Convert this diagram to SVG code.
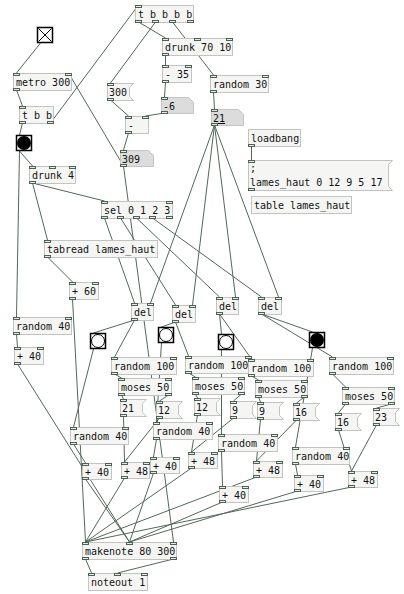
<svg xmlns="http://www.w3.org/2000/svg" width="404" height="594" viewBox="0 0 404 594">
<style>
.ob{fill:#f5f6f4;stroke:#c2c4c2;stroke-width:1}
.at{fill:#dcdcdc;stroke:#c4c4c4;stroke-width:1}
.ms{fill:#f5f6f4;stroke:#c2c4c2;stroke-width:1}
.io{fill:#e6ebe6;stroke:#4c6252;stroke-width:1}
.ig{fill:#ffffff;stroke:#000;stroke-width:1.5}
.cn line{stroke:#53675a;stroke-width:1}
text{font-family:"DejaVu Sans Mono",monospace;font-size:10px;fill:#111}
</style>
<rect width="404" height="594" fill="#ffffff"/>
<g class="cn" id="connectors">
<line x1="40.5" y1="43" x2="16.5" y2="73"/>
<line x1="16.5" y1="90" x2="22.5" y2="106"/>
<line x1="50.5" y1="123" x2="138.5" y2="5"/>
<line x1="22.5" y1="123" x2="19.5" y2="135"/>
<line x1="19.5" y1="151" x2="32.5" y2="166"/>
<line x1="19.5" y1="151" x2="16.5" y2="317"/>
<line x1="123.5" y1="166" x2="68.5" y2="73"/>
<line x1="123.5" y1="166" x2="173.5" y2="542"/>
<line x1="138.5" y1="22" x2="165.5" y2="38"/>
<line x1="155.5" y1="22" x2="110.5" y2="83"/>
<line x1="172.5" y1="22" x2="213.5" y2="75"/>
<line x1="165.5" y1="55" x2="165.5" y2="65"/>
<line x1="165.5" y1="82" x2="164.5" y2="97"/>
<line x1="164.5" y1="113" x2="145.5" y2="116"/>
<line x1="110.5" y1="100" x2="128.5" y2="116"/>
<line x1="128.5" y1="133" x2="123.5" y2="150"/>
<line x1="213.5" y1="92" x2="214.5" y2="109"/>
<line x1="214.5" y1="125" x2="150.5" y2="303"/>
<line x1="214.5" y1="125" x2="192.5" y2="305"/>
<line x1="214.5" y1="125" x2="235.5" y2="297"/>
<line x1="214.5" y1="125" x2="278.5" y2="297"/>
<line x1="251.5" y1="146" x2="251.5" y2="160"/>
<line x1="32.5" y1="183" x2="104.5" y2="201"/>
<line x1="32.5" y1="183" x2="47.5" y2="240"/>
<line x1="47.5" y1="257" x2="72.5" y2="282"/>
<line x1="104.5" y1="218" x2="134.5" y2="303"/>
<line x1="120.5" y1="218" x2="175.5" y2="305"/>
<line x1="136.5" y1="218" x2="219.5" y2="297"/>
<line x1="152.5" y1="218" x2="261.5" y2="297"/>
<line x1="72.5" y1="299" x2="85.5" y2="542"/>
<line x1="16.5" y1="334" x2="17.5" y2="347"/>
<line x1="17.5" y1="364" x2="129.5" y2="542"/>
<line x1="134.5" y1="320" x2="93.5" y2="333"/>
<line x1="134.5" y1="320" x2="114.5" y2="357"/>
<line x1="175.5" y1="322" x2="161.5" y2="327"/>
<line x1="175.5" y1="322" x2="188.5" y2="356"/>
<line x1="219.5" y1="314" x2="221.5" y2="334"/>
<line x1="219.5" y1="314" x2="251.5" y2="359"/>
<line x1="261.5" y1="314" x2="312.5" y2="332"/>
<line x1="261.5" y1="314" x2="332.5" y2="357"/>
<line x1="93.5" y1="349" x2="73.5" y2="427"/>
<line x1="161.5" y1="343" x2="156.5" y2="422"/>
<line x1="221.5" y1="350" x2="221.5" y2="434"/>
<line x1="312.5" y1="348" x2="295.5" y2="447"/>
<line x1="114.5" y1="374" x2="121.5" y2="378"/>
<line x1="121.5" y1="395" x2="123.5" y2="399"/>
<line x1="168.5" y1="395" x2="159.5" y2="401"/>
<line x1="123.5" y1="416" x2="124.5" y2="462"/>
<line x1="159.5" y1="418" x2="124.5" y2="462"/>
<line x1="73.5" y1="444" x2="85.5" y2="463"/>
<line x1="156.5" y1="439" x2="153.5" y2="457"/>
<line x1="188.5" y1="373" x2="195.5" y2="377"/>
<line x1="195.5" y1="394" x2="197.5" y2="398"/>
<line x1="241.5" y1="394" x2="233.5" y2="401"/>
<line x1="197.5" y1="415" x2="191.5" y2="452"/>
<line x1="233.5" y1="418" x2="191.5" y2="452"/>
<line x1="251.5" y1="376" x2="258.5" y2="380"/>
<line x1="258.5" y1="397" x2="260.5" y2="402"/>
<line x1="304.5" y1="397" x2="296.5" y2="403"/>
<line x1="260.5" y1="419" x2="256.5" y2="461"/>
<line x1="296.5" y1="420" x2="256.5" y2="461"/>
<line x1="221.5" y1="451" x2="222.5" y2="486"/>
<line x1="332.5" y1="374" x2="345.5" y2="387"/>
<line x1="345.5" y1="404" x2="338.5" y2="413"/>
<line x1="391.5" y1="404" x2="376.5" y2="408"/>
<line x1="338.5" y1="430" x2="351.5" y2="471"/>
<line x1="376.5" y1="425" x2="351.5" y2="471"/>
<line x1="295.5" y1="464" x2="297.5" y2="475"/>
<line x1="85.5" y1="479" x2="129.5" y2="542"/>
<line x1="124.5" y1="478" x2="85.5" y2="542"/>
<line x1="153.5" y1="473" x2="129.5" y2="542"/>
<line x1="191.5" y1="468" x2="85.5" y2="542"/>
<line x1="222.5" y1="502" x2="129.5" y2="542"/>
<line x1="256.5" y1="477" x2="85.5" y2="542"/>
<line x1="297.5" y1="491" x2="129.5" y2="542"/>
<line x1="351.5" y1="487" x2="85.5" y2="542"/>
<line x1="85.5" y1="559" x2="91.5" y2="573"/>
<line x1="173.5" y1="559" x2="117.5" y2="573"/>
</g>

<g id="n_tbbbb"><rect class="ob" x="135.5" y="5.5" width="58" height="17"/><text x="138" y="18">t b b b b</text><rect class="io" x="135.5" y="5.5" width="6" height="2"/><rect class="io" x="135.5" y="20.5" width="6" height="2"/><rect class="io" x="152.5" y="20.5" width="6" height="2"/><rect class="io" x="169.5" y="20.5" width="6" height="2"/><rect class="io" x="187.5" y="20.5" width="6" height="2"/></g>
<g id="n_toggle"><rect class="ig" x="37.5" y="27.5" width="15" height="15"/><path d="M38.5 28.5 L51.5 41.5 M51.5 28.5 L38.5 41.5" stroke="#000" stroke-width="1"/></g>
<g id="n_metro"><rect class="ob" x="13.5" y="73.5" width="58" height="17"/><text x="16" y="86">metro 300</text><rect class="io" x="13.5" y="73.5" width="6" height="2"/><rect class="io" x="65.5" y="73.5" width="6" height="2"/><rect class="io" x="13.5" y="88.5" width="6" height="2"/></g>
<g id="n_tbb"><rect class="ob" x="19.5" y="106.5" width="34" height="17"/><text x="22" y="119">t b b</text><rect class="io" x="19.5" y="106.5" width="6" height="2"/><rect class="io" x="19.5" y="121.5" width="6" height="2"/><rect class="io" x="47.5" y="121.5" width="6" height="2"/></g>
<g id="n_bang1"><rect class="ig" x="16.5" y="135.5" width="15" height="15"/><circle cx="24" cy="143" r="7" fill="#000"/></g>
<g id="n_drunk4"><rect class="ob" x="29.5" y="166.5" width="46" height="17"/><text x="32" y="179">drunk 4</text><rect class="io" x="29.5" y="166.5" width="6" height="2"/><rect class="io" x="49.5" y="166.5" width="6" height="2"/><rect class="io" x="69.5" y="166.5" width="6" height="2"/><rect class="io" x="29.5" y="181.5" width="6" height="2"/></g>
<g id="n_drunk7010"><rect class="ob" x="162.5" y="38.5" width="70" height="17"/><text x="165" y="51">drunk 70 10</text><rect class="io" x="162.5" y="38.5" width="6" height="2"/><rect class="io" x="194.5" y="38.5" width="6" height="2"/><rect class="io" x="226.5" y="38.5" width="6" height="2"/><rect class="io" x="162.5" y="53.5" width="6" height="2"/></g>
<g id="n_minus35"><rect class="ob" x="162.5" y="65.5" width="29" height="17"/><text x="165" y="78">- 35</text><rect class="io" x="162.5" y="65.5" width="6" height="2"/><rect class="io" x="185.5" y="65.5" width="6" height="2"/><rect class="io" x="162.5" y="80.5" width="6" height="2"/></g>
<g id="n_num_m6"><path class="at" d="M161.5 97.5 H188.5 L193.5 102.5 V113.5 H161.5 Z"/><text x="163" y="110">-6</text><rect class="io" x="161.5" y="97.5" width="6" height="2"/><rect class="io" x="161.5" y="111.5" width="6" height="2"/></g>
<g id="n_msg300"><path class="ms" d="M107.5 83.5 H133.5 L129.5 87.5 V96.5 L133.5 100.5 H107.5 Z"/><text x="109" y="96">300</text><rect class="io" x="107.5" y="83.5" width="6" height="2"/><rect class="io" x="107.5" y="98.5" width="6" height="2"/></g>
<g id="n_minus"><rect class="ob" x="125.5" y="116.5" width="23" height="17"/><text x="128" y="129">-</text><rect class="io" x="125.5" y="116.5" width="6" height="2"/><rect class="io" x="142.5" y="116.5" width="6" height="2"/><rect class="io" x="125.5" y="131.5" width="6" height="2"/></g>
<g id="n_num309"><path class="at" d="M120.5 150.5 H148.5 L153.5 155.5 V166.5 H120.5 Z"/><text x="122" y="163">309</text><rect class="io" x="120.5" y="150.5" width="6" height="2"/><rect class="io" x="120.5" y="164.5" width="6" height="2"/></g>
<g id="n_random30"><rect class="ob" x="210.5" y="75.5" width="58" height="17"/><text x="213" y="88">random 30</text><rect class="io" x="210.5" y="75.5" width="6" height="2"/><rect class="io" x="262.5" y="75.5" width="6" height="2"/><rect class="io" x="210.5" y="90.5" width="6" height="2"/></g>
<g id="n_num21"><path class="at" d="M211.5 109.5 H238.5 L243.5 114.5 V125.5 H211.5 Z"/><text x="213" y="122" text-decoration="underline">21</text><rect class="io" x="211.5" y="109.5" width="6" height="2"/><rect class="io" x="211.5" y="123.5" width="6" height="2"/></g>
<g id="n_loadbang"><rect class="ob" x="248.5" y="129.5" width="52" height="17"/><text x="251" y="142">loadbang</text><rect class="io" x="248.5" y="144.5" width="6" height="2"/></g>
<g id="n_msglames"><path class="ms" d="M248.5 160.5 H392.5 L388.5 164.5 V186.5 L392.5 190.5 H248.5 Z"/><text x="250" y="172">;</text><text x="250" y="186">lames_haut 0 12 9 5 17</text><rect class="io" x="248.5" y="160.5" width="6" height="2"/><rect class="io" x="248.5" y="188.5" width="6" height="2"/></g>
<g id="n_table"><rect class="ob" x="251.5" y="196.5" width="100" height="17"/><text x="254" y="209">table lames_haut</text></g>
<g id="n_sel"><rect class="ob" x="101.5" y="201.5" width="71" height="17"/><text x="104" y="214">sel 0 1 2 3</text><rect class="io" x="101.5" y="201.5" width="6" height="2"/><rect class="io" x="166.5" y="201.5" width="6" height="2"/><rect class="io" x="101.5" y="216.5" width="6" height="2"/><rect class="io" x="117.5" y="216.5" width="6" height="2"/><rect class="io" x="133.5" y="216.5" width="6" height="2"/><rect class="io" x="149.5" y="216.5" width="6" height="2"/><rect class="io" x="166.5" y="216.5" width="6" height="2"/></g>
<g id="n_tabread"><rect class="ob" x="44.5" y="240.5" width="113" height="17"/><text x="47" y="253">tabread lames_haut</text><rect class="io" x="44.5" y="240.5" width="6" height="2"/><rect class="io" x="44.5" y="255.5" width="6" height="2"/></g>
<g id="n_plus60"><rect class="ob" x="69.5" y="282.5" width="29" height="17"/><text x="72" y="295">+ 60</text><rect class="io" x="69.5" y="282.5" width="6" height="2"/><rect class="io" x="92.5" y="282.5" width="6" height="2"/><rect class="io" x="69.5" y="297.5" width="6" height="2"/></g>
<g id="n_random40L"><rect class="ob" x="13.5" y="317.5" width="58" height="17"/><text x="16" y="330">random 40</text><rect class="io" x="13.5" y="317.5" width="6" height="2"/><rect class="io" x="65.5" y="317.5" width="6" height="2"/><rect class="io" x="13.5" y="332.5" width="6" height="2"/></g>
<g id="n_plus40L"><rect class="ob" x="14.5" y="347.5" width="29" height="17"/><text x="17" y="360">+ 40</text><rect class="io" x="14.5" y="347.5" width="6" height="2"/><rect class="io" x="37.5" y="347.5" width="6" height="2"/><rect class="io" x="14.5" y="362.5" width="6" height="2"/></g>
<g id="n_del1"><rect class="ob" x="131.5" y="303.5" width="22" height="17"/><text x="134" y="316">del</text><rect class="io" x="131.5" y="303.5" width="6" height="2"/><rect class="io" x="147.5" y="303.5" width="6" height="2"/><rect class="io" x="131.5" y="318.5" width="6" height="2"/></g>
<g id="n_del2"><rect class="ob" x="172.5" y="305.5" width="23" height="17"/><text x="175" y="318">del</text><rect class="io" x="172.5" y="305.5" width="6" height="2"/><rect class="io" x="189.5" y="305.5" width="6" height="2"/><rect class="io" x="172.5" y="320.5" width="6" height="2"/></g>
<g id="n_del3"><rect class="ob" x="216.5" y="297.5" width="22" height="17"/><text x="219" y="310">del</text><rect class="io" x="216.5" y="297.5" width="6" height="2"/><rect class="io" x="232.5" y="297.5" width="6" height="2"/><rect class="io" x="216.5" y="312.5" width="6" height="2"/></g>
<g id="n_del4"><rect class="ob" x="258.5" y="297.5" width="23" height="17"/><text x="261" y="310">del</text><rect class="io" x="258.5" y="297.5" width="6" height="2"/><rect class="io" x="275.5" y="297.5" width="6" height="2"/><rect class="io" x="258.5" y="312.5" width="6" height="2"/></g>
<g id="n_bang_c1"><rect class="ig" x="90.5" y="333.5" width="15" height="15"/><circle cx="98" cy="341" r="6.5" fill="#fff" stroke="#000"/></g>
<g id="n_bang_c2"><rect class="ig" x="158.5" y="327.5" width="15" height="15"/><circle cx="166" cy="335" r="6.5" fill="#fff" stroke="#000"/></g>
<g id="n_bang_c3"><rect class="ig" x="218.5" y="334.5" width="15" height="15"/><circle cx="226" cy="342" r="6.5" fill="#fff" stroke="#000"/></g>
<g id="n_bang_c4"><rect class="ig" x="309.5" y="332.5" width="15" height="15"/><circle cx="317" cy="340" r="7" fill="#000"/></g>
<g id="n_r100_1"><rect class="ob" x="111.5" y="357.5" width="65" height="17"/><text x="114" y="370">random 100</text><rect class="io" x="111.5" y="357.5" width="6" height="2"/><rect class="io" x="170.5" y="357.5" width="6" height="2"/><rect class="io" x="111.5" y="372.5" width="6" height="2"/></g>
<g id="n_moses1"><rect class="ob" x="118.5" y="378.5" width="53" height="17"/><text x="121" y="391">moses 50</text><rect class="io" x="118.5" y="378.5" width="6" height="2"/><rect class="io" x="165.5" y="378.5" width="6" height="2"/><rect class="io" x="118.5" y="393.5" width="6" height="2"/><rect class="io" x="165.5" y="393.5" width="6" height="2"/></g>
<g id="n_m21"><path class="ms" d="M120.5 399.5 H146.5 L142.5 403.5 V412.5 L146.5 416.5 H120.5 Z"/><text x="122" y="412">21</text><rect class="io" x="120.5" y="399.5" width="6" height="2"/><rect class="io" x="120.5" y="414.5" width="6" height="2"/></g>
<g id="n_m12a"><path class="ms" d="M156.5 401.5 H182.5 L178.5 405.5 V414.5 L182.5 418.5 H156.5 Z"/><text x="158" y="414">12</text><rect class="io" x="156.5" y="401.5" width="6" height="2"/><rect class="io" x="156.5" y="416.5" width="6" height="2"/></g>
<g id="n_r40mid"><rect class="ob" x="70.5" y="427.5" width="58" height="17"/><text x="73" y="440">random 40</text><rect class="io" x="70.5" y="427.5" width="6" height="2"/><rect class="io" x="122.5" y="427.5" width="6" height="2"/><rect class="io" x="70.5" y="442.5" width="6" height="2"/></g>
<g id="n_r40_2"><rect class="ob" x="153.5" y="422.5" width="59" height="17"/><text x="156" y="435">random 40</text><rect class="io" x="153.5" y="422.5" width="6" height="2"/><rect class="io" x="206.5" y="422.5" width="6" height="2"/><rect class="io" x="153.5" y="437.5" width="6" height="2"/></g>
<g id="n_p40a"><rect class="ob" x="82.5" y="463.5" width="29" height="16"/><text x="85" y="476">+ 40</text><rect class="io" x="82.5" y="463.5" width="6" height="2"/><rect class="io" x="105.5" y="463.5" width="6" height="2"/><rect class="io" x="82.5" y="477.5" width="6" height="2"/></g>
<g id="n_p48a"><rect class="ob" x="121.5" y="462.5" width="28" height="16"/><text x="124" y="475">+ 48</text><rect class="io" x="121.5" y="462.5" width="6" height="2"/><rect class="io" x="143.5" y="462.5" width="6" height="2"/><rect class="io" x="121.5" y="476.5" width="6" height="2"/></g>
<g id="n_p40b"><rect class="ob" x="150.5" y="457.5" width="29" height="16"/><text x="153" y="470">+ 40</text><rect class="io" x="150.5" y="457.5" width="6" height="2"/><rect class="io" x="173.5" y="457.5" width="6" height="2"/><rect class="io" x="150.5" y="471.5" width="6" height="2"/></g>
<g id="n_p48b"><rect class="ob" x="188.5" y="452.5" width="29" height="16"/><text x="191" y="465">+ 48</text><rect class="io" x="188.5" y="452.5" width="6" height="2"/><rect class="io" x="211.5" y="452.5" width="6" height="2"/><rect class="io" x="188.5" y="466.5" width="6" height="2"/></g>
<g id="n_r100_2"><rect class="ob" x="185.5" y="356.5" width="66" height="17"/><text x="188" y="369">random 100</text><rect class="io" x="185.5" y="356.5" width="6" height="2"/><rect class="io" x="245.5" y="356.5" width="6" height="2"/><rect class="io" x="185.5" y="371.5" width="6" height="2"/></g>
<g id="n_moses2"><rect class="ob" x="192.5" y="377.5" width="52" height="17"/><text x="195" y="390">moses 50</text><rect class="io" x="192.5" y="377.5" width="6" height="2"/><rect class="io" x="238.5" y="377.5" width="6" height="2"/><rect class="io" x="192.5" y="392.5" width="6" height="2"/><rect class="io" x="238.5" y="392.5" width="6" height="2"/></g>
<g id="n_m12b"><path class="ms" d="M194.5 398.5 H220.5 L216.5 402.5 V411.5 L220.5 415.5 H194.5 Z"/><text x="196" y="411">12</text><rect class="io" x="194.5" y="398.5" width="6" height="2"/><rect class="io" x="194.5" y="413.5" width="6" height="2"/></g>
<g id="n_m9a"><path class="ms" d="M230.5 401.5 H256.5 L252.5 405.5 V414.5 L256.5 418.5 H230.5 Z"/><text x="232" y="414">9</text><rect class="io" x="230.5" y="401.5" width="6" height="2"/><rect class="io" x="230.5" y="416.5" width="6" height="2"/></g>
<g id="n_r100_3"><rect class="ob" x="248.5" y="359.5" width="65" height="17"/><text x="251" y="372">random 100</text><rect class="io" x="248.5" y="359.5" width="6" height="2"/><rect class="io" x="307.5" y="359.5" width="6" height="2"/><rect class="io" x="248.5" y="374.5" width="6" height="2"/></g>
<g id="n_moses3"><rect class="ob" x="255.5" y="380.5" width="52" height="17"/><text x="258" y="393">moses 50</text><rect class="io" x="255.5" y="380.5" width="6" height="2"/><rect class="io" x="301.5" y="380.5" width="6" height="2"/><rect class="io" x="255.5" y="395.5" width="6" height="2"/><rect class="io" x="301.5" y="395.5" width="6" height="2"/></g>
<g id="n_m9b"><path class="ms" d="M257.5 402.5 H283.5 L279.5 406.5 V415.5 L283.5 419.5 H257.5 Z"/><text x="259" y="415">9</text><rect class="io" x="257.5" y="402.5" width="6" height="2"/><rect class="io" x="257.5" y="417.5" width="6" height="2"/></g>
<g id="n_m16a"><path class="ms" d="M293.5 403.5 H319.5 L315.5 407.5 V416.5 L319.5 420.5 H293.5 Z"/><text x="295" y="416">16</text><rect class="io" x="293.5" y="403.5" width="6" height="2"/><rect class="io" x="293.5" y="418.5" width="6" height="2"/></g>
<g id="n_r100_4"><rect class="ob" x="329.5" y="357.5" width="64" height="17"/><text x="332" y="370">random 100</text><rect class="io" x="329.5" y="357.5" width="6" height="2"/><rect class="io" x="387.5" y="357.5" width="6" height="2"/><rect class="io" x="329.5" y="372.5" width="6" height="2"/></g>
<g id="n_moses4"><rect class="ob" x="342.5" y="387.5" width="52" height="17"/><text x="345" y="400">moses 50</text><rect class="io" x="342.5" y="387.5" width="6" height="2"/><rect class="io" x="388.5" y="387.5" width="6" height="2"/><rect class="io" x="342.5" y="402.5" width="6" height="2"/><rect class="io" x="388.5" y="402.5" width="6" height="2"/></g>
<g id="n_m16b"><path class="ms" d="M335.5 413.5 H361.5 L357.5 417.5 V426.5 L361.5 430.5 H335.5 Z"/><text x="337" y="426">16</text><rect class="io" x="335.5" y="413.5" width="6" height="2"/><rect class="io" x="335.5" y="428.5" width="6" height="2"/></g>
<g id="n_m23"><path class="ms" d="M373.5 408.5 H399.5 L395.5 412.5 V421.5 L399.5 425.5 H373.5 Z"/><text x="375" y="421">23</text><rect class="io" x="373.5" y="408.5" width="6" height="2"/><rect class="io" x="373.5" y="423.5" width="6" height="2"/></g>
<g id="n_r40_3"><rect class="ob" x="218.5" y="434.5" width="59" height="17"/><text x="221" y="447">random 40</text><rect class="io" x="218.5" y="434.5" width="6" height="2"/><rect class="io" x="271.5" y="434.5" width="6" height="2"/><rect class="io" x="218.5" y="449.5" width="6" height="2"/></g>
<g id="n_r40_4"><rect class="ob" x="292.5" y="447.5" width="57" height="17"/><text x="295" y="460">random 40</text><rect class="io" x="292.5" y="447.5" width="6" height="2"/><rect class="io" x="343.5" y="447.5" width="6" height="2"/><rect class="io" x="292.5" y="462.5" width="6" height="2"/></g>
<g id="n_p48c"><rect class="ob" x="253.5" y="461.5" width="29" height="16"/><text x="256" y="474">+ 48</text><rect class="io" x="253.5" y="461.5" width="6" height="2"/><rect class="io" x="276.5" y="461.5" width="6" height="2"/><rect class="io" x="253.5" y="475.5" width="6" height="2"/></g>
<g id="n_p40c"><rect class="ob" x="219.5" y="486.5" width="29" height="16"/><text x="222" y="499">+ 40</text><rect class="io" x="219.5" y="486.5" width="6" height="2"/><rect class="io" x="242.5" y="486.5" width="6" height="2"/><rect class="io" x="219.5" y="500.5" width="6" height="2"/></g>
<g id="n_p40d"><rect class="ob" x="294.5" y="475.5" width="29" height="16"/><text x="297" y="488">+ 40</text><rect class="io" x="294.5" y="475.5" width="6" height="2"/><rect class="io" x="317.5" y="475.5" width="6" height="2"/><rect class="io" x="294.5" y="489.5" width="6" height="2"/></g>
<g id="n_p48d"><rect class="ob" x="348.5" y="471.5" width="29" height="16"/><text x="351" y="484">+ 48</text><rect class="io" x="348.5" y="471.5" width="6" height="2"/><rect class="io" x="371.5" y="471.5" width="6" height="2"/><rect class="io" x="348.5" y="485.5" width="6" height="2"/></g>
<g id="n_makenote"><rect class="ob" x="82.5" y="542.5" width="94" height="17"/><text x="85" y="555">makenote 80 300</text><rect class="io" x="82.5" y="542.5" width="6" height="2"/><rect class="io" x="126.5" y="542.5" width="6" height="2"/><rect class="io" x="170.5" y="542.5" width="6" height="2"/><rect class="io" x="82.5" y="557.5" width="6" height="2"/><rect class="io" x="170.5" y="557.5" width="6" height="2"/></g>
<g id="n_noteout"><rect class="ob" x="88.5" y="573.5" width="59" height="17"/><text x="91" y="586">noteout 1</text><rect class="io" x="88.5" y="573.5" width="6" height="2"/><rect class="io" x="114.5" y="573.5" width="6" height="2"/><rect class="io" x="141.5" y="573.5" width="6" height="2"/></g>
</svg>
